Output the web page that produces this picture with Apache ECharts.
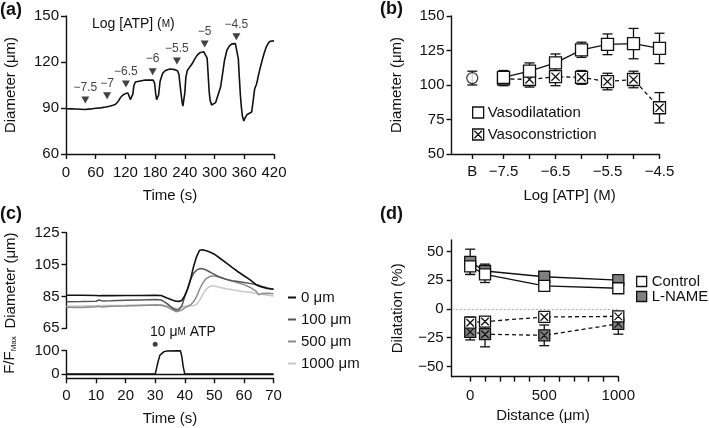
<!DOCTYPE html>
<html><head><meta charset="utf-8">
<script src="https://cdn.jsdelivr.net/npm/echarts@6/dist/echarts.min.js"></script>
<style>html,body{margin:0;padding:0;background:#fff}#c{width:709px;height:428px}</style>
</head><body><div id="c"></div>
<script>
// ---------- Panel (a): diameter trace vs time ----------
const aTime = [0,10,20,30,38,40,42,50,51,52,60,70,80,88,95,100,105,110,115,120,125,128,130,131,133,135,137,140,144,160,176,179,181,183,185,187,190,195,200,205,210,220,225,228,231,234,236,238,240,242,245,250,255,260,265,270,278,282,285,287,289,291,294,298,302,306,309,312,316,320,325,330,335,342,346,348,350,352,354,356,359,362,366,370,375,378,381,385,388,392,396,400,404,408,412,416,420];
const aDiam = [89.5,89.4,89.3,89.2,89.0,88.6,89.2,89.4,90.3,89.5,89.8,90.1,90.6,91.2,91.8,92.4,94.1,96.8,98.5,99.4,99.8,98.6,95.5,94.6,96.5,99.0,104.5,107.0,108.3,108.3,108.2,106.0,99.6,95.5,95.8,98.5,107.5,112.5,114.3,115.0,115.4,115.0,114.3,112.0,103.0,95.0,91.2,91.5,100.0,110.0,114.5,116.8,119.0,122.0,124.5,126.0,126.7,126.3,122.5,112.0,101.0,95.0,92.0,92.5,93.5,97.5,98.5,103.5,112.0,121.0,127.8,130.5,131.8,132.0,131.0,122.0,110.0,99.0,91.0,85.0,81.5,83.8,85.8,86.5,87.4,95.0,102.5,105.8,110.5,116.0,121.0,125.5,129.5,132.0,133.5,134.0,133.8];
const aDoseTime = [39,83,121,175,224,280,344];
const aDoseLevel = [95.2,98.0,105.6,113.7,120.6,131.7,136.5];
const aDoseLabel = ['\u22127.5','\u22127','\u22126.5','\u22126','\u22125.5','\u22125','\u22124.5'];

// ---------- Panel (b): concentration-response ----------
const bTickVals = [-8.1,-7.5,-7,-6.5,-6,-5.5,-5,-4.5];
const bLabelVals = [-8.1,-7.5,-6.5,-5.5,-4.5];
const bBaseX = -8.1, bBaseMean = 105, bBaseErr = 5;
const bLogATP = [-7.5,-7,-6.5,-6,-5.5,-5,-4.5];
const bDilMean = [105.5,110,116,125.5,129.5,130,126.5];
const bDilErr  = [5,6,6.5,5.5,7.5,11,11];
const bConMean = [104.5,104,106,105.5,102.5,104,83.5];
const bConErr  = [5,5.5,6.5,5,6,6,11];

// ---------- Panel (c): spatial spread ----------
const cTime = [0,5,10,11,12,15,20,25,30,32,34,36,37,38,39,40,41,42,43,44,45,46,47,48,49,50,52,54,56,58,60,62,64,65,66,68,70];
const c0    = [85.7,85.7,85.6,85.4,85.6,85.5,85.6,85.6,85.7,85.6,84.0,82.6,82.0,81.9,82.5,85.5,90,96,104,110,114,114.3,113.8,113.2,112.4,111.5,108.8,106,103.2,100.5,98,95.5,92.5,91.6,91,90,89.5];
const c100  = [81.7,81.8,82.0,82.8,82.2,82.3,82.6,82.8,83.0,82.8,80.5,77.5,76.5,76.8,79,85,90,96,99.5,101.5,102.5,102.4,101.8,100.8,99.8,98.8,97,95.7,94.8,94.3,93.8,93.2,92.5,92,91.3,90.3,89.5];
const c500  = [78.2,78.0,78.6,78.8,78.3,78.8,79.0,79.3,79.6,79.5,78.5,76.5,75.4,75.8,76.5,77.8,78.8,79.8,81.8,85,89.5,93,95.8,97,97.8,97.8,97,95.8,94.6,93.6,92.4,90.8,88.5,86,86.8,87,86.7];
const c1000 = [78.8,79.0,79.2,79.0,79.3,79.3,79.4,79.6,79.8,79.8,79,78,77.6,77.8,78.4,79,79.2,79.2,79.3,80,82.5,86,89,90.8,91.6,91.5,90.6,89.8,89.2,88.6,88,87.6,87,86.5,86.3,85.8,85.3];
const cFTime = [0,30,31,31.6,32,33,34,38.5,39,39.5,40,70];
const cF     = [0,0,55,81,88,96,99,100,75,30,0,0];
const cAtpTime = 30, cAtpLevel = 128;

// ---------- Panel (d): dilatation vs distance ----------
const dDist = [0,100,500,1000];
const dCtrlDil = [37,30,20,18];     const dCtrlDilErr = [7,7,4,3];
const dLnDil   = [41,33,28,25];     const dLnDilErr   = [11,6,3,3];
const dCtrlCon = [-12,-11,-7,-6.5]; const dCtrlConErr = [5,4,3,3];
const dLnCon   = [-20,-22,-23,-13]; const dLnConErr   = [7,11,9,9];

const FONT = '"Liberation Sans", Arial, Helvetica, sans-serif';
const BLACK = '#111';
const zip = (a,b) => a.map((v,i)=>[v,b[i]]);
const errData = (x,m,e) => x.map((v,i)=>[v,m[i]-e[i],m[i]+e[i]]);

function errRender(params, api){
  const x = api.value(0), lo = api.value(1), hi = api.value(2);
  const p1 = api.coord([x,lo]), p2 = api.coord([x,hi]);
  const w = 5, st = {stroke: BLACK, lineWidth: 1.3};
  return {type:'group', children:[
    {type:'line', shape:{x1:p1[0],y1:p1[1],x2:p2[0],y2:p2[1]}, style:st},
    {type:'line', shape:{x1:p1[0]-w,y1:p1[1],x2:p1[0]+w,y2:p1[1]}, style:st},
    {type:'line', shape:{x1:p2[0]-w,y1:p2[1],x2:p2[0]+w,y2:p2[1]}, style:st}
  ]};
}
const XSQ = 'path://M0,0H10V10H0Z M1.6,1.6L8.4,8.4 M8.4,1.6L1.6,8.4';
const minus = v => String(v).replace('-','\u2212');

const axisLineS = {show:true, onZero:false, lineStyle:{color:BLACK, width:1.4}};
const tickS = {show:true, inside:false, length:5, lineStyle:{color:BLACK, width:1.4}};
const labS = (m)=>({color:BLACK, fontSize:15, fontFamily:FONT, margin:m});
const nameS = {color:BLACK, fontSize:15, fontFamily:FONT};

function valX(gi, min, max, extra){ return Object.assign({type:'value', gridIndex:gi, min, max, splitLine:{show:false}, axisLine:axisLineS, axisTick:tickS, axisLabel:labS(10), nameTextStyle:nameS, nameLocation:'middle'}, extra||{}); }
function valY(gi, min, max, extra){ return Object.assign({type:'value', gridIndex:gi, min, max, splitLine:{show:false}, axisLine:axisLineS, axisTick:tickS, axisLabel:labS(7), nameTextStyle:nameS, nameLocation:'middle'}, extra||{}); }

const chart = echarts.init(document.getElementById('c'), null, {renderer:'canvas'});
const option = {
  animation:false,
  textStyle:{fontFamily:FONT},
  grid:[
    {left:66, top:16, width:208, height:138},
    {left:451.5, top:16, width:208, height:138},
    {left:66.5, top:232.7, width:207, height:95.6},
    {left:66.5, top:350.7, width:207, height:27.6},
    {left:451.7, top:240, width:166.6, height:136.7}
  ],
  xAxis:[
    valX(0,0,420,{interval:60, name:'Time (s)', nameGap:34, axisLabel:labS(11)}),
    valX(1,-8.5,-4.5,{name:'Log [ATP] (M)', nameGap:34, nameTextStyle:Object.assign({},nameS,{padding:[0,0,0,28]}),
      axisTick:Object.assign({},tickS,{customValues:bTickVals}),
      axisLabel:Object.assign(labS(10),{customValues:bLabelVals, formatter:v=> v<-8 ? 'B' : minus(v)})}),
    valX(2,0,70,{show:false}),
    valX(3,0,70,{interval:10, name:'Time (s)', nameGap:33, axisLabel:labS(10)}),
    valX(4,-125,1000,{name:'Distance (\u03bcm)', nameGap:32, nameTextStyle:Object.assign({},nameS,{padding:[0,0,0,16]}),
      axisTick:Object.assign({},tickS,{customValues:[0,100,200,300,400,500,600,700,800,900,1000]}),
      axisLabel:Object.assign(labS(12),{customValues:[0,500,1000], formatter:v=>String(v)})})
  ],
  yAxis:[
    valY(0,60,150,{interval:30, name:'Diameter (\u03bcm)', nameGap:48}),
    valY(1,50,150,{interval:25, name:'Diameter (\u03bcm)', nameGap:47}),
    valY(2,65,125,{interval:20, name:'Diameter (\u03bcm)', nameGap:48}),
    valY(3,-18,100,{axisTick:Object.assign({},tickS,{customValues:[0,100]}), axisLabel:Object.assign(labS(7),{customValues:[0,100]})}),
    valY(4,-59,60,{name:'Dilatation (%)', nameGap:46,
      axisTick:Object.assign({},tickS,{customValues:[-50,-25,0,25,50]}),
      axisLabel:Object.assign(labS(8),{customValues:[-50,-25,0,25,50], formatter:minus})})
  ],
  legend:[
    {left:472, top:105, padding:0, orient:'vertical', itemWidth:11, itemHeight:11, itemGap:7, textStyle:{fontSize:15, color:BLACK, fontFamily:FONT, padding:[0,0,0,-1]},
      data:[{name:'Vasodilatation', icon:'rect', itemStyle:{color:'#fff', borderColor:BLACK, borderWidth:1.3}},
            {name:'Vasoconstriction', icon:XSQ, itemStyle:{color:'#fff', borderColor:BLACK, borderWidth:1.3}}]},
    {left:288, top:290, padding:0, orient:'vertical', itemWidth:8, itemHeight:2, itemGap:7, textStyle:{fontSize:15, color:BLACK, fontFamily:FONT},
      data:[{name:'0 \u03bcm', icon:'rect'},{name:'100 \u03bcm', icon:'rect'},{name:'500 \u03bcm', icon:'rect'},{name:'1000 \u03bcm', icon:'rect'}]},
    {left:636, top:274, padding:0, orient:'vertical', itemWidth:10, itemHeight:10, itemGap:0, itemTextGap:4, textStyle:{fontSize:15, color:BLACK, fontFamily:FONT, lineHeight:15},
      data:[{name:'Control', icon:'rect', itemStyle:{color:'#fff', borderColor:BLACK, borderWidth:1.3}},
            {name:'L-NAME', icon:'rect', itemStyle:{color:'#808080', borderColor:BLACK, borderWidth:1.3}}]}
  ],
  series:[
    // (a)
    {type:'line', xAxisIndex:0, yAxisIndex:0, data:zip(aTime,aDiam), showSymbol:false, lineStyle:{color:BLACK, width:1.6}},
    {type:'scatter', xAxisIndex:0, yAxisIndex:0, data:zip(aDoseTime,aDoseLevel), symbol:'triangle', symbolRotate:180, symbolSize:[8,7], itemStyle:{color:BLACK},
      label:{show:true, position:'top', distance:3, fontSize:12, color:BLACK, fontFamily:FONT, formatter:p=>aDoseLabel[p.dataIndex]}},
    // (b)
    {type:'custom', xAxisIndex:1, yAxisIndex:1, renderItem:errRender, encode:{x:0,y:[1,2]}, data:errData(bLogATP,bDilMean,bDilErr), z:1},
    {type:'custom', xAxisIndex:1, yAxisIndex:1, renderItem:errRender, encode:{x:0,y:[1,2]}, data:errData(bLogATP,bConMean,bConErr), z:1},
    {type:'custom', xAxisIndex:1, yAxisIndex:1, renderItem:errRender, encode:{x:0,y:[1,2]}, data:[[bBaseX,bBaseMean-bBaseErr,bBaseMean+bBaseErr]], z:1},
    {type:'scatter', xAxisIndex:1, yAxisIndex:1, data:[[bBaseX,bBaseMean]], symbol:'circle', symbolSize:11, itemStyle:{color:'#fff', borderColor:BLACK, borderWidth:1.3}, z:3},
    {name:'Vasoconstriction', type:'line', xAxisIndex:1, yAxisIndex:1, data:zip(bLogATP,bConMean), symbol:XSQ, symbolSize:12, showAllSymbol:true,
      lineStyle:{color:BLACK, width:1.3, type:[4,3]}, itemStyle:{color:'#fff', borderColor:BLACK, borderWidth:1.3}, z:3},
    {name:'Vasodilatation', type:'line', xAxisIndex:1, yAxisIndex:1, data:zip(bLogATP,bDilMean), symbol:'rect', symbolSize:12, showAllSymbol:true,
      lineStyle:{color:BLACK, width:1.3}, itemStyle:{color:'#fff', borderColor:BLACK, borderWidth:1.3}, z:4},
    // (c)
    {name:'1000 \u03bcm', type:'line', xAxisIndex:2, yAxisIndex:2, data:zip(cTime,c1000), showSymbol:false, lineStyle:{color:'#c8c8c8', width:1.5}, itemStyle:{color:'#c8c8c8'}},
    {name:'500 \u03bcm', type:'line', xAxisIndex:2, yAxisIndex:2, data:zip(cTime,c500), showSymbol:false, lineStyle:{color:'#8c8c8c', width:1.5}, itemStyle:{color:'#8c8c8c'}},
    {name:'100 \u03bcm', type:'line', xAxisIndex:2, yAxisIndex:2, data:zip(cTime,c100), showSymbol:false, lineStyle:{color:'#555', width:1.5}, itemStyle:{color:'#555'}},
    {name:'0 \u03bcm', type:'line', xAxisIndex:2, yAxisIndex:2, data:zip(cTime,c0), showSymbol:false, lineStyle:{color:BLACK, width:1.6}, itemStyle:{color:BLACK}},
    {type:'line', xAxisIndex:3, yAxisIndex:3, data:zip(cFTime,cF), showSymbol:false, lineStyle:{color:BLACK, width:1.5},
      markLine:{silent:true, symbol:'none', label:{show:false}, lineStyle:{color:BLACK, width:1.4, type:'solid'}, data:[{yAxis:0}]}},
    {type:'scatter', xAxisIndex:3, yAxisIndex:3, data:[[cAtpTime,cAtpLevel]], symbolSize:5, itemStyle:{color:BLACK}, clip:false},
    // (d)
    {type:'custom', xAxisIndex:4, yAxisIndex:4, renderItem:errRender, encode:{x:0,y:[1,2]}, data:errData(dDist,dLnDil,dLnDilErr), z:1},
    {type:'custom', xAxisIndex:4, yAxisIndex:4, renderItem:errRender, encode:{x:0,y:[1,2]}, data:errData(dDist,dCtrlDil,dCtrlDilErr), z:1},
    {type:'custom', xAxisIndex:4, yAxisIndex:4, renderItem:errRender, encode:{x:0,y:[1,2]}, data:errData(dDist,dLnCon,dLnConErr), z:1},
    {type:'custom', xAxisIndex:4, yAxisIndex:4, renderItem:errRender, encode:{x:0,y:[1,2]}, data:errData(dDist,dCtrlCon,dCtrlConErr), z:1},
    {name:'L-NAME', type:'line', xAxisIndex:4, yAxisIndex:4, data:zip(dDist,dLnDil), symbol:'rect', symbolSize:11, showAllSymbol:true,
      lineStyle:{color:BLACK, width:1.3}, itemStyle:{color:'#808080', borderColor:BLACK, borderWidth:1.3}, z:3,
      markLine:{silent:true, symbol:'none', label:{show:false}, lineStyle:{color:'#aaa', width:1, type:[2,2]}, data:[{yAxis:0}]}},
    {name:'Control', type:'line', xAxisIndex:4, yAxisIndex:4, data:zip(dDist,dCtrlDil), symbol:'rect', symbolSize:11, showAllSymbol:true,
      lineStyle:{color:BLACK, width:1.3}, itemStyle:{color:'#fff', borderColor:BLACK, borderWidth:1.3}, z:4},
    {name:'L-NAME constriction', type:'line', xAxisIndex:4, yAxisIndex:4, data:zip(dDist,dLnCon), symbol:XSQ, symbolSize:11, showAllSymbol:true,
      lineStyle:{color:BLACK, width:1.3, type:[4,3]}, itemStyle:{color:'#808080', borderColor:BLACK, borderWidth:1.3}, z:3},
    {name:'Control constriction', type:'line', xAxisIndex:4, yAxisIndex:4, data:zip(dDist,dCtrlCon), symbol:XSQ, symbolSize:11, showAllSymbol:true,
      lineStyle:{color:BLACK, width:1.3, type:[4,3]}, itemStyle:{color:'#fff', borderColor:BLACK, borderWidth:1.3}, z:4}
  ],
  graphic:[
    {type:'text', left:0, top:1, style:{text:'(a)', font:'bold 18px '+FONT, fill:BLACK}},
    {type:'text', left:380, top:0, style:{text:'(b)', font:'bold 18px '+FONT, fill:BLACK}},
    {type:'text', left:0, top:205, style:{text:'(c)', font:'bold 18px '+FONT, fill:BLACK}},
    {type:'text', left:380, top:205, style:{text:'(d)', font:'bold 18px '+FONT, fill:BLACK}},
    {type:'text', left:92, top:17, style:{text:'{n|Log [ATP] (}{m|M}{n|)}', rich:{n:{fontSize:14, fontFamily:FONT, fill:BLACK}, m:{fontSize:10, fontFamily:FONT, fill:BLACK}}}},
    {type:'text', left:150, top:325, style:{text:'{n|10 \u03bc}{m|M}{n| ATP}', rich:{n:{fontSize:14, fontFamily:FONT, fill:BLACK}, m:{fontSize:10, fontFamily:FONT, fill:BLACK}}}},
    {type:'text', x:10, y:355, rotation:Math.PI/2, style:{text:'{a|F/F}{s|Max}', align:'center', verticalAlign:'middle', rich:{a:{fontSize:15, fontFamily:FONT, fill:BLACK}, s:{fontSize:8, fontFamily:FONT, fill:BLACK, padding:[8,0,0,0]}}}}
  ]
};
chart.setOption(option);
</script></body></html>
